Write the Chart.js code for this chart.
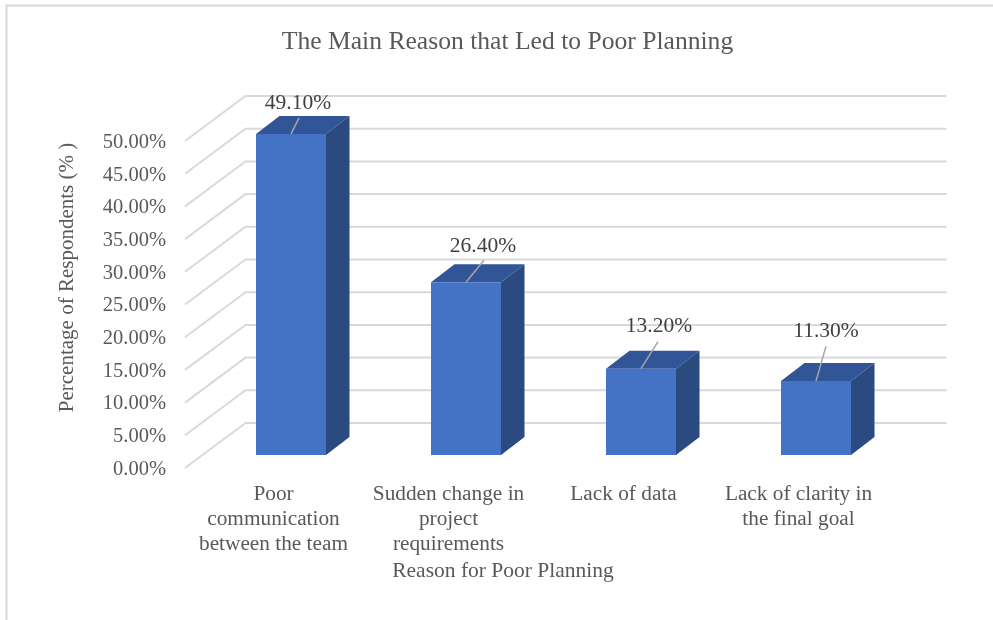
<!DOCTYPE html>
<html>
<head>
<meta charset="utf-8">
<script src="https://cdn.jsdelivr.net/npm/chart.js@4"></script>
<style>
html,body{margin:0;padding:0;background:#fff}
#wrap{width:993px;height:620px;position:relative}
</style>
</head>
<body>
<div id="wrap"><canvas id="c" width="993" height="620"></canvas></div>
<script>
const categories = [
  ["Poor", "communication", "between the team"],
  ["Sudden change in", "project", "requirements"],
  "Lack of data",
  ["Lack of clarity in", "the final goal"]
];
const percentValues = [49.1, 26.4, 13.2, 11.3];
const chartTitle = "The Main Reason that Led to Poor Planning";
const xAxisTitle = "Reason for Poor Planning";
const yAxisTitle = "Percentage of Respondents (% )";

const SERIF = '"Liberation Serif", "Times New Roman", serif';
const GREY = '#595959';
const GRID = '#D9D9D9';

const scene = {
  wall: {dx: 60.5, dy: -45},
  bar: {dx: 18.5, dy: -13},
  depth: {dx: 23.5, dy: -18},
  leaders: [
    {ex: 8, ey: -16, tx: 7, ty: -31},
    {ex: 18, ey: -22, tx: 17, ty: -36},
    {ex: 17, ey: -27, tx: 18, ty: -42},
    {ex: 10, ey: -35, tx: 10, ty: -50}
  ]
};

const threeD = {
  id: 'threeD',
  beforeDatasetsDraw(chart) {
    const {ctx, chartArea: a, scales: {y}} = chart;
    ctx.save();
    ctx.strokeStyle = GRID;
    ctx.lineWidth = 2;
    y.ticks.forEach(t => {
      const py = y.getPixelForValue(t.value);
      ctx.beginPath();
      ctx.moveTo(a.left, py);
      ctx.lineTo(a.left + scene.wall.dx, py + scene.wall.dy);
      ctx.lineTo(a.right + scene.wall.dx + 1, py + scene.wall.dy);
      ctx.stroke();
    });
    ctx.restore();
  },
  beforeDatasetDraw(chart, args) {
    const {ctx} = chart;
    const d = scene.depth;
    ctx.save();
    ctx.translate(scene.bar.dx, scene.bar.dy);
    args.meta.data.forEach(b => {
      const l = b.x - b.width / 2, r = b.x + b.width / 2;
      ctx.fillStyle = '#325597';
      ctx.beginPath();
      ctx.moveTo(l, b.y); ctx.lineTo(l + d.dx, b.y + d.dy);
      ctx.lineTo(r + d.dx, b.y + d.dy); ctx.lineTo(r, b.y);
      ctx.closePath(); ctx.fill();
      ctx.fillStyle = '#2A4A80';
      ctx.beginPath();
      ctx.moveTo(r, b.y); ctx.lineTo(r + d.dx, b.y + d.dy);
      ctx.lineTo(r + d.dx, b.base + d.dy); ctx.lineTo(r, b.base);
      ctx.closePath(); ctx.fill();
    });
  },
  afterDatasetDraw(chart) {
    chart.ctx.restore();
  },
  afterDraw(chart) {
    const {ctx} = chart;
    const meta = chart.getDatasetMeta(0);
    ctx.save();
    ctx.strokeStyle = GRID;
    ctx.lineWidth = 2;
    ctx.beginPath();
    ctx.moveTo(6.5, 620); ctx.lineTo(6.5, 5.5); ctx.lineTo(993, 5.5);
    ctx.stroke();

    meta.data.forEach((b, i) => {
      const s = scene.leaders[i];
      const x = b.x + scene.bar.dx, yy = b.y + scene.bar.dy;
      ctx.strokeStyle = '#A6A6A6';
      ctx.lineWidth = 1.5;
      ctx.beginPath();
      ctx.moveTo(x, yy);
      ctx.lineTo(x + s.ex, yy + s.ey);
      ctx.stroke();
      ctx.fillStyle = '#404040';
      ctx.font = '21.5px ' + SERIF;
      ctx.textAlign = 'center';
      ctx.textBaseline = 'middle';
      ctx.fillText(percentValues[i].toFixed(2) + '%', x + s.tx, yy + s.ty);
    });

    ctx.fillStyle = GREY;
    ctx.textAlign = 'center';
    ctx.textBaseline = 'middle';
    ctx.font = '25.6px ' + SERIF;
    ctx.fillText(chartTitle, 507.5, 42);
    ctx.font = '21.5px ' + SERIF;
    ctx.fillText(xAxisTitle, 503, 571);
    ctx.translate(67, 277.5);
    ctx.rotate(-Math.PI / 2);
    ctx.font = '21px ' + SERIF;
    ctx.fillText(yAxisTitle, 0, 0);
    ctx.restore();
  }
};

new Chart(document.getElementById('c'), {
  type: 'bar',
  data: {
    labels: categories,
    datasets: [{
      data: percentValues,
      backgroundColor: '#4472C4',
      borderWidth: 0,
      barPercentage: 0.4,
      categoryPercentage: 1
    }]
  },
  options: {
    responsive: false,
    animation: false,
    events: [],
    layout: {padding: {left: 0, right: 108, top: 141, bottom: 0}},
    plugins: {legend: {display: false}, title: {display: false}, tooltip: {enabled: false}},
    scales: {
      x: {
        grid: {display: false, drawTicks: false},
        border: {display: false},
        afterFit(s) { s.height = 152; },
        ticks: {
          color: GREY, maxRotation: 0, minRotation: 0, autoSkip: false, padding: 14, labelOffset: 1,
          font: {family: SERIF, size: 21.3, lineHeight: 1.17}
        }
      },
      y: {
        min: 0, max: 50,
        grid: {display: false, drawTicks: false},
        border: {display: false},
        afterFit(s) { s.width = 185; },
        ticks: {
          stepSize: 5, color: GREY, padding: 19, labelOffset: 1.5,
          font: {family: SERIF, size: 20.5},
          callback: v => v.toFixed(2) + '%'
        }
      }
    }
  },
  plugins: [threeD]
});
</script>
</body>
</html>
